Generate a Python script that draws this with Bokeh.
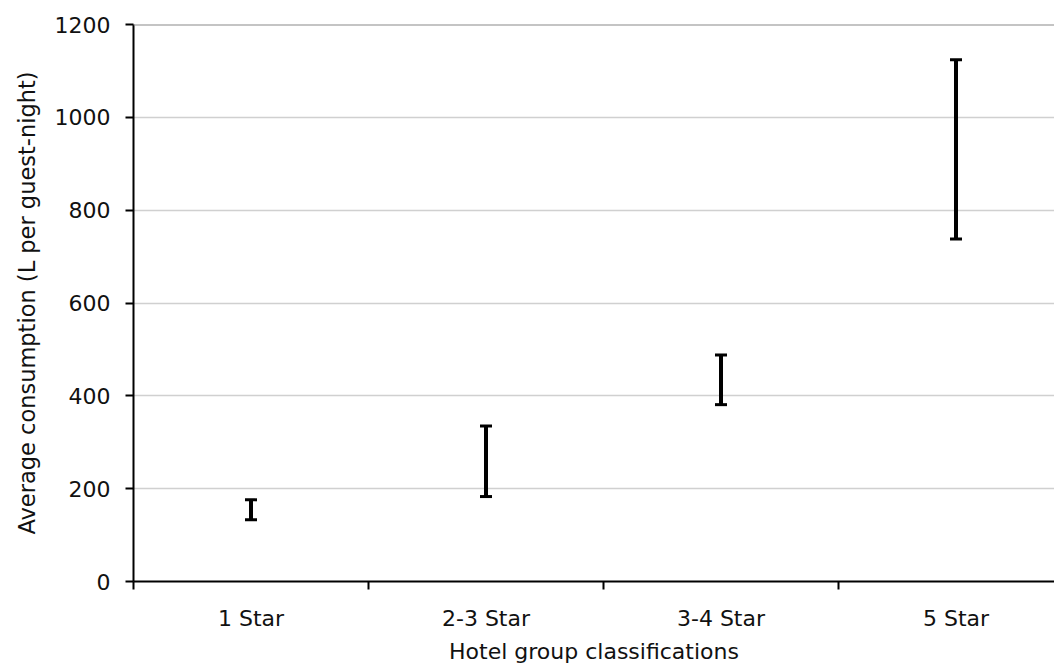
from bokeh.plotting import figure
from bokeh.models import Range1d, FixedTicker, Whisker, TeeHead, ColumnDataSource, Span
from bokeh.embed import file_html
from bokeh.resources import INLINE

categories = ["1 Star", "2-3 Star", "3-4 Star", "5 Star"]
lower = [133, 183, 381, 738]
upper = [176, 335, 488, 1124]
y_ticks = [0, 200, 400, 600, 800, 1000, 1200]

xpos = [i + 1 for i in range(len(categories))]
src = ColumnDataSource(dict(x=xpos, lower=lower, upper=upper))

W, H = 1054, 666
left, right, top = 133, 0, 24
plot_w = W - left - right
cat_px = 235.0

p = figure(width=W, height=H, output_backend="svg", toolbar_location=None,
           x_range=Range1d(0.5, 0.5 + plot_w / cat_px), y_range=Range1d(0, 1200),
           min_border_left=left, min_border_right=right, min_border_top=top, min_border_bottom=0)
p.outline_line_color = None
p.background_fill_color = "white"
p.border_fill_color = "white"

FONT = "DejaVu Sans"
TXT = "#111111"

# y axis
p.yaxis.ticker = FixedTicker(ticks=y_ticks)
p.yaxis.major_tick_out = 8
p.yaxis.major_tick_in = 0
p.yaxis.minor_tick_line_color = None
p.yaxis.axis_line_color = "black"
p.yaxis.axis_line_width = 2
p.yaxis.major_tick_line_width = 2
p.yaxis.major_label_text_font = FONT
p.yaxis.major_label_text_font_size = "22px"
p.yaxis.major_label_text_color = TXT
p.yaxis.major_label_standoff = 15
p.yaxis.axis_label = "Average consumption (L per guest-night)"
p.yaxis.axis_label_text_font = FONT
p.yaxis.axis_label_text_font_size = "22.5px"
p.yaxis.axis_label_text_font_style = "normal"
p.yaxis.axis_label_text_color = TXT
p.yaxis.axis_label_standoff = 12

# x axis
p.xaxis.ticker = FixedTicker(ticks=xpos, minor_ticks=[x - 0.5 for x in xpos])
p.xaxis.major_label_overrides = {x: c for x, c in zip(xpos, categories)}
p.xaxis.major_tick_line_color = None
p.xaxis.major_tick_out = 0
p.xaxis.major_tick_in = 0
p.xaxis.minor_tick_out = 8
p.xaxis.minor_tick_in = 0
p.xaxis.minor_tick_line_width = 2
p.xaxis.minor_tick_line_color = "black"
p.xaxis.axis_line_color = "black"
p.xaxis.axis_line_width = 2
p.xaxis.major_label_text_font = FONT
p.xaxis.major_label_text_font_size = "22px"
p.xaxis.major_label_text_color = TXT
p.xaxis.major_label_standoff = 16
p.xaxis.axis_label = "Hotel group classifications"
p.xaxis.axis_label_text_font = FONT
p.xaxis.axis_label_text_font_size = "22px"
p.xaxis.axis_label_text_font_style = "normal"
p.xaxis.axis_label_text_color = TXT
p.xaxis.axis_label_standoff = 5

p.xgrid.grid_line_color = None
p.ygrid.ticker = FixedTicker(ticks=y_ticks[1:-1])
p.ygrid.grid_line_color = "#d0d0d0"
p.ygrid.grid_line_width = 1.5

p.add_layout(Span(location=1200, dimension="width", line_color="#8a8a8a", line_width=2))

w = Whisker(source=src, base="x", lower="lower", upper="upper", dimension="height",
            line_color="black", line_width=4,
            upper_head=TeeHead(size=12, line_width=3, line_color="black"),
            lower_head=TeeHead(size=12, line_width=3, line_color="black"))
p.add_layout(w)

open("out.html", "w").write(file_html(p, INLINE))
